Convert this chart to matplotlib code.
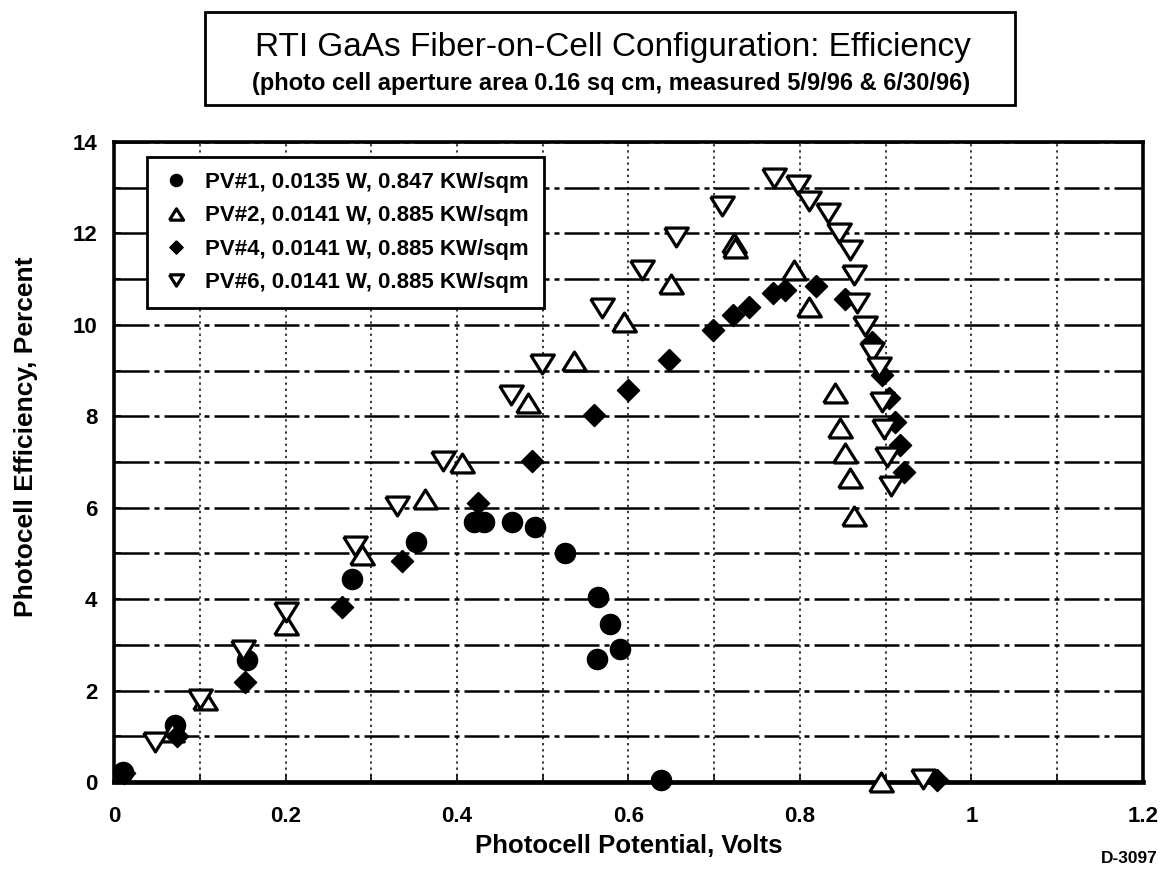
import matplotlib
matplotlib.use('Agg')
import matplotlib.pyplot as plt
from matplotlib.ticker import MultipleLocator

# Data
pv1_v = [0.010, 0.071, 0.155, 0.277, 0.352, 0.420, 0.432, 0.464, 0.491, 0.526, 0.564, 0.579, 0.590, 0.563, 0.638]
pv1_e = [0.22, 1.24, 2.66, 4.45, 5.24, 5.68, 5.68, 5.68, 5.57, 5.02, 4.04, 3.46, 2.92, 2.70, 0.05]

pv2_v = [0.068, 0.106, 0.200, 0.289, 0.363, 0.406, 0.483, 0.536, 0.595, 0.649, 0.723, 0.724, 0.793, 0.810,
         0.841, 0.847, 0.852, 0.858, 0.863, 0.894]
pv2_e = [1.10, 1.79, 3.43, 4.96, 6.19, 6.98, 8.28, 9.20, 10.07, 10.90, 11.80, 11.68, 11.19, 10.40,
         8.52, 7.74, 7.20, 6.66, 5.82, 0.00]

pv4_v = [0.012, 0.073, 0.153, 0.266, 0.336, 0.425, 0.487, 0.560, 0.600, 0.647, 0.699, 0.722, 0.740, 0.769,
         0.782, 0.819, 0.853, 0.884, 0.896, 0.904, 0.911, 0.917, 0.921, 0.960]
pv4_e = [0.20, 1.00, 2.19, 3.83, 4.83, 6.11, 7.02, 8.03, 8.58, 9.24, 9.89, 10.22, 10.40, 10.70,
         10.76, 10.85, 10.56, 9.62, 8.90, 8.41, 7.87, 7.37, 6.79, 0.04]

pv6_v = [0.048, 0.100, 0.151, 0.200, 0.281, 0.330, 0.384, 0.463, 0.499, 0.569, 0.616, 0.655, 0.709, 0.770,
         0.798, 0.811, 0.833, 0.845, 0.858, 0.863, 0.867, 0.876, 0.884, 0.892, 0.896, 0.898, 0.902, 0.906, 0.944]
pv6_e = [0.88, 1.82, 2.88, 3.72, 5.17, 6.04, 7.02, 8.47, 9.15, 10.36, 11.19, 11.92, 12.60, 13.22,
         13.07, 12.71, 12.44, 12.02, 11.63, 11.08, 10.47, 9.98, 9.40, 9.07, 8.31, 7.73, 7.12, 6.47, 0.07]

labels = ['PV#1, 0.0135 W, 0.847 KW/sqm',
          'PV#2, 0.0141 W, 0.885 KW/sqm',
          'PV#4, 0.0141 W, 0.885 KW/sqm',
          'PV#6, 0.0141 W, 0.885 KW/sqm']
xtick_vals = [0, 0.2, 0.4, 0.6, 0.8, 1.0, 1.2]
xtick_text = ['0', '0.2', '0.4', '0.6', '0.8', '1', '1.2']

plt.rcParams['font.family'] = ['Liberation Sans', 'DejaVu Sans']

# wide, flat triangles and diamond like the scan
tri_up = [(-1, -0.8), (1, -0.8), (0, 0.8), (-1, -0.8)]
tri_dn = [(-1, 0.8), (1, 0.8), (0, -0.8), (-1, 0.8)]
diamond = [(0, 1), (1, 0), (0, -1), (-1, 0), (0, 1)]

fig = plt.figure(figsize=(11.67, 8.69), dpi=100)
ax = fig.add_axes([0.0977, 0.1001, 0.8817, 0.7365])

ax.plot(pv1_v, pv1_e, 'o', ms=14.5, color='black', clip_on=False, label=labels[0], zorder=5)
ax.plot(pv2_v, pv2_e, marker=tri_up, ls='none', ms=17, mfc='white', mec='black', mew=2.3,
        clip_on=False, label=labels[1], zorder=5)
ax.plot(pv4_v, pv4_e, marker=diamond, ls='none', ms=16, color='black', clip_on=False,
        label=labels[2], zorder=5)
ax.plot(pv6_v, pv6_e, marker=tri_dn, ls='none', ms=17, mfc='white', mec='black', mew=2.3,
        clip_on=False, label=labels[3], zorder=5)

ax.set_xlim(0, 1.2)
ax.set_ylim(0, 14)
ax.set_xticks(xtick_vals)
ax.set_xticklabels(xtick_text)
ax.xaxis.set_minor_locator(MultipleLocator(0.1))
ax.yaxis.set_major_locator(MultipleLocator(2))
ax.yaxis.set_minor_locator(MultipleLocator(1))

ax.grid(which='both', axis='y', color='black', lw=1.8, ls=(0, (14, 2, 2, 2)))
ax.grid(which='both', axis='x', color='black', lw=1.1, ls=(0, (1.5, 2.5)))
ax.tick_params(which='both', direction='in', length=5, width=1.2)
ax.tick_params(axis='x', which='major', labelsize=16, pad=17)
ax.tick_params(axis='y', which='major', labelsize=16, pad=12)
for lab in ax.get_xticklabels() + ax.get_yticklabels():
    lab.set_fontweight('bold')
for side in ['left', 'top', 'right']:
    ax.spines[side].set_linewidth(2.6)
ax.spines['bottom'].set_linewidth(3.4)

ax.set_xlabel('Photocell Potential, Volts', fontsize=18.5, fontweight='bold', labelpad=5)
ax.set_ylabel('Photocell Efficiency, Percent', fontsize=19, fontweight='bold')
ax.yaxis.set_label_coords(-0.074, 0.539)

leg = ax.legend(loc='upper left', bbox_to_anchor=(0.032, 0.977), borderaxespad=0, markerscale=0.6,
                prop={'size': 16, 'weight': 'bold'}, frameon=True, fancybox=False, framealpha=1,
                edgecolor='black', handletextpad=0.7, labelspacing=0.55, borderpad=0.7, handlelength=1.2)
leg.get_frame().set_linewidth(2.0)
leg.set_zorder(10)

# title box
fig.text(0.525, 0.945, 'RTI GaAs Fiber-on-Cell Configuration: Efficiency', ha='center', va='center',
         fontsize=24)
fig.text(0.524, 0.904, '(photo cell aperture area 0.16 sq cm, measured 5/9/96 & 6/30/96)', ha='center',
         va='center', fontsize=17, fontweight='bold')
box = plt.Rectangle((0.176, 0.879), 0.694, 0.107, transform=fig.transFigure, fill=False,
                    edgecolor='black', lw=2.0)
fig.patches.append(box)

fig.text(0.968, 0.003, 'D-3097', ha='center', va='bottom', fontsize=12.5, fontweight='bold')

fig.savefig('out.png', dpi=100)
